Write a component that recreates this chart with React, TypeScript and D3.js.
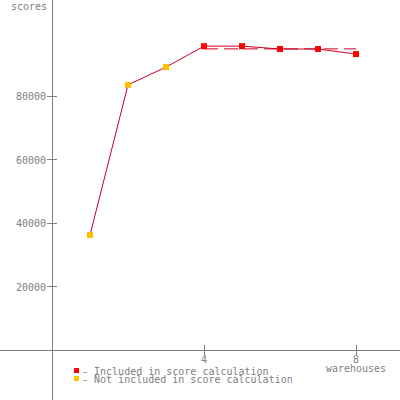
import React from "react";
import * as d3 from "d3";

const warehouses = [1, 2, 3, 4, 5, 6, 7, 8];
const scores = [36200, 83500, 89100, 95700, 95700, 94800, 94800, 93200];
const included = [false, false, false, true, true, true, true, true];
const yTicks = [20000, 40000, 60000, 80000];
const xTicks = [4, 8];
const legendLabels = ["- Included in score calculation", "- Not included in score calculation"];

export default function App() {
  const W = 400, H = 400;
  const x = d3.scaleLinear().domain([0, 8]).range([52, 356]);
  const y = d3.scaleLinear().domain([0, 80000]).range([350, 96]);
  const line = d3.line<number>().x((_, i) => x(warehouses[i])).y((d) => y(d));
  const incl = scores.filter((_, i) => included[i]);
  const avg = d3.mean(incl) as number;
  const firstIncl = warehouses[included.indexOf(true)];
  const font = "'DejaVu Sans Mono', monospace";
  const gray = "#808080";
  const red = "#ff0000";
  const orange = "#ffc000";
  return (
    <svg width={W} height={H} style={{ position: "absolute", left: 0, top: 0, background: "#fff" }}>
      <rect width={W} height={H} fill="#fff" />
      <line x1={x(0)} x2={x(0)} y1={0} y2={H} stroke={gray} strokeWidth={1} shapeRendering="crispEdges" />
      <line x1={0} x2={W} y1={y(0)} y2={y(0)} stroke={gray} strokeWidth={1} shapeRendering="crispEdges" />
      {yTicks.map((t) => (
        <g key={t}>
          <line x1={x(0) - 5} x2={x(0) + 5} y1={y(t)} y2={y(t)} stroke={gray} shapeRendering="crispEdges" />
          <text x={x(0) - 6} y={y(t) + 4} textAnchor="end" fontFamily={font} fontSize={10} fill={gray}>{t}</text>
        </g>
      ))}
      {xTicks.map((t) => (
        <g key={t}>
          <line x1={x(t)} x2={x(t)} y1={y(0) - 5} y2={y(0) + 5} stroke={gray} shapeRendering="crispEdges" />
          <text x={x(t)} y={y(0) + 13} textAnchor="middle" fontFamily={font} fontSize={10} fill={gray}>{t}</text>
        </g>
      ))}
      <text x={47} y={10} textAnchor="end" fontFamily={font} fontSize={10} fill={gray}>scores</text>
      <text x={x(8)} y={y(0) + 22} textAnchor="middle" fontFamily={font} fontSize={10} fill={gray}>warehouses</text>
      <line x1={x(firstIncl)} x2={x(8)} y1={y(avg)} y2={y(avg)} stroke="#cc0022" strokeWidth={1} strokeDasharray="14,6" />
      <path d={line(scores) || ""} fill="none" stroke="#cc0022" strokeWidth={1} />
      {scores.map((s, i) => (
        <rect key={i} x={x(warehouses[i]) - 3} y={y(s) - 3} width={6} height={6} fill={included[i] ? red : orange} />
      ))}
      <rect x={74} y={368} width={5} height={5} fill={red} />
      <rect x={74} y={376} width={5} height={5} fill={orange} />
      <text x={82} y={375} fontFamily={font} fontSize={10} fill={gray}>{legendLabels[0]}</text>
      <text x={82} y={383} fontFamily={font} fontSize={10} fill={gray}>{legendLabels[1]}</text>
    </svg>
  );
}
